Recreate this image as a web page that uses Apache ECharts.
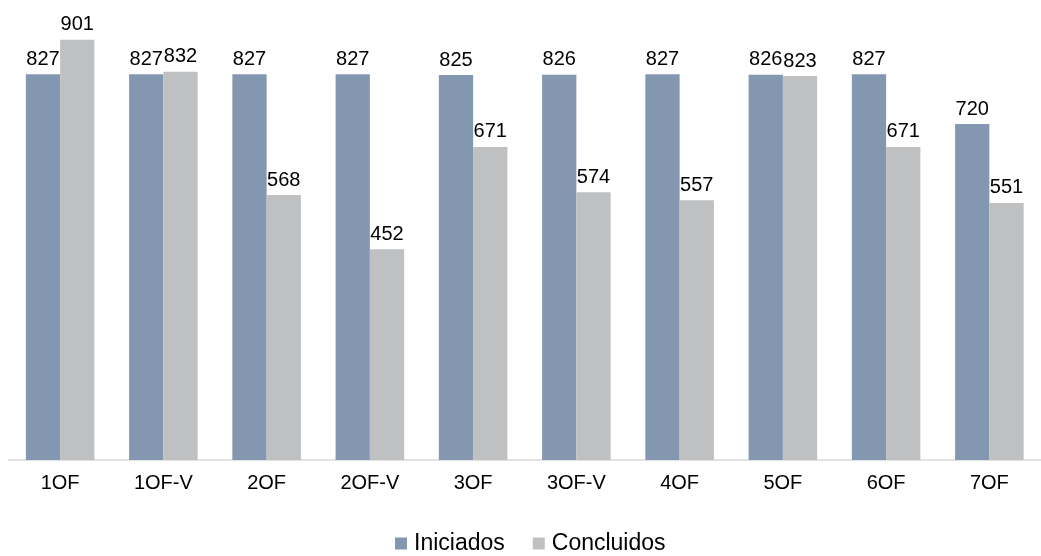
<!DOCTYPE html>
<html>
<head>
<meta charset="utf-8">
<script src="https://cdn.jsdelivr.net/npm/echarts@6/dist/echarts.min.js"></script>
<style>html,body{margin:0;padding:0;background:#fff}#c{width:1041px;height:556px}</style>
</head>
<body>
<div id="c"></div>
<script>
const categories = ['1OF','1OF-V','2OF','2OF-V','3OF','3OF-V','4OF','5OF','6OF','7OF'];
const iniciados = [827,827,827,827,825,826,827,826,827,720];
const concluidos = [901,832,568,452,671,574,557,823,671,551];
const seriesNames = ['Iniciados','Concluidos'];

const chart = echarts.init(document.getElementById('c'), null, {renderer:'canvas'});
const font = 'Liberation Sans, Arial, sans-serif';
const lbl = {show:true, position:'top', distance:5, color:'#000', fontSize:20, fontFamily:font};
chart.setOption({
  animation:false,
  grid:{left:8.5, right:-7, top:0, height:460},
  legend:{top:532, left:395, padding:0, itemWidth:12, itemHeight:12, itemGap:28,
    icon:'rect', textStyle:{fontSize:23, fontFamily:font, color:'#000', lineHeight:23, padding:[0,0,0,2]},
    data:seriesNames},
  xAxis:{type:'category', data:categories,
    axisLine:{lineStyle:{color:'#d9d9d9', width:1.5}},
    axisTick:{show:false},
    axisLabel:{color:'#000', fontSize:20, fontFamily:font, margin:13}},
  yAxis:{type:'value', min:0, max:986, show:false, splitLine:{show:false}},
  series:[
    {name:seriesNames[0], type:'bar', data:iniciados, barGap:'0%', barCategoryGap:'33.6%',
     itemStyle:{color:'#8497b0'}, label:lbl},
    {name:seriesNames[1], type:'bar', data:concluidos, barGap:'0%', barCategoryGap:'33.6%',
     itemStyle:{color:'#bfc0c2'}, label:lbl}
  ]
});
</script>
</body>
</html>
